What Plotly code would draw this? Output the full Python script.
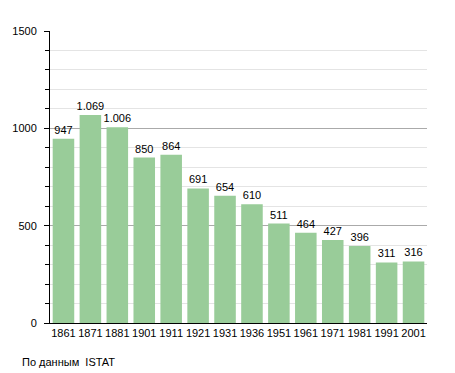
import plotly.graph_objects as go

years = ["1861", "1871", "1881", "1901", "1911", "1921", "1931", "1936", "1951", "1961", "1971", "1981", "1991", "2001"]
population = [947, 1069, 1006, 850, 864, 691, 654, 610, 511, 464, 427, 396, 311, 316]
labels = ["947", "1.069", "1.006", "850", "864", "691", "654", "610", "511", "464", "427", "396", "311", "316"]

fig = go.Figure(go.Bar(
    x=years, y=population, text=labels, textposition="outside",
    constraintext="none",
    marker=dict(color="#99cc99", line=dict(width=0)),
    textfont=dict(family="Liberation Sans, Arial", size=11, color="black"),
    cliponaxis=False,
))

fig.update_layout(
    width=447, height=365,
    margin=dict(l=42, r=28, t=23, b=50, autoexpand=False),
    plot_bgcolor="white", paper_bgcolor="white",
    bargap=0.2,
    showlegend=False,
    font=dict(family="Liberation Sans, Arial", size=11, color="black"),
    xaxis=dict(type="category", showline=True, linecolor="black", linewidth=1,
               ticks="", tickfont=dict(size=11), showgrid=False, automargin=False),
    yaxis=dict(range=[0, 1500], tickvals=[0, 500, 1000, 1500], showline=True,
               linecolor="black", linewidth=1, ticks="outside", ticklen=5,
               tickcolor="black", gridcolor="#aaaaaa", gridwidth=1,
               zeroline=False, automargin=False, ticklabelstandoff=5,
               minor=dict(dtick=100, tick0=0, showgrid=True, gridcolor="#e4e4e4",
                          ticks="outside", ticklen=4, tickcolor="black")),
    annotations=[dict(text="По данным  ISTAT", xref="paper", yref="paper",
                      x=-0.08, y=-0.134, xanchor="left", yanchor="middle",
                      showarrow=False, font=dict(size=11))],
)

fig.write_html("out.html")
